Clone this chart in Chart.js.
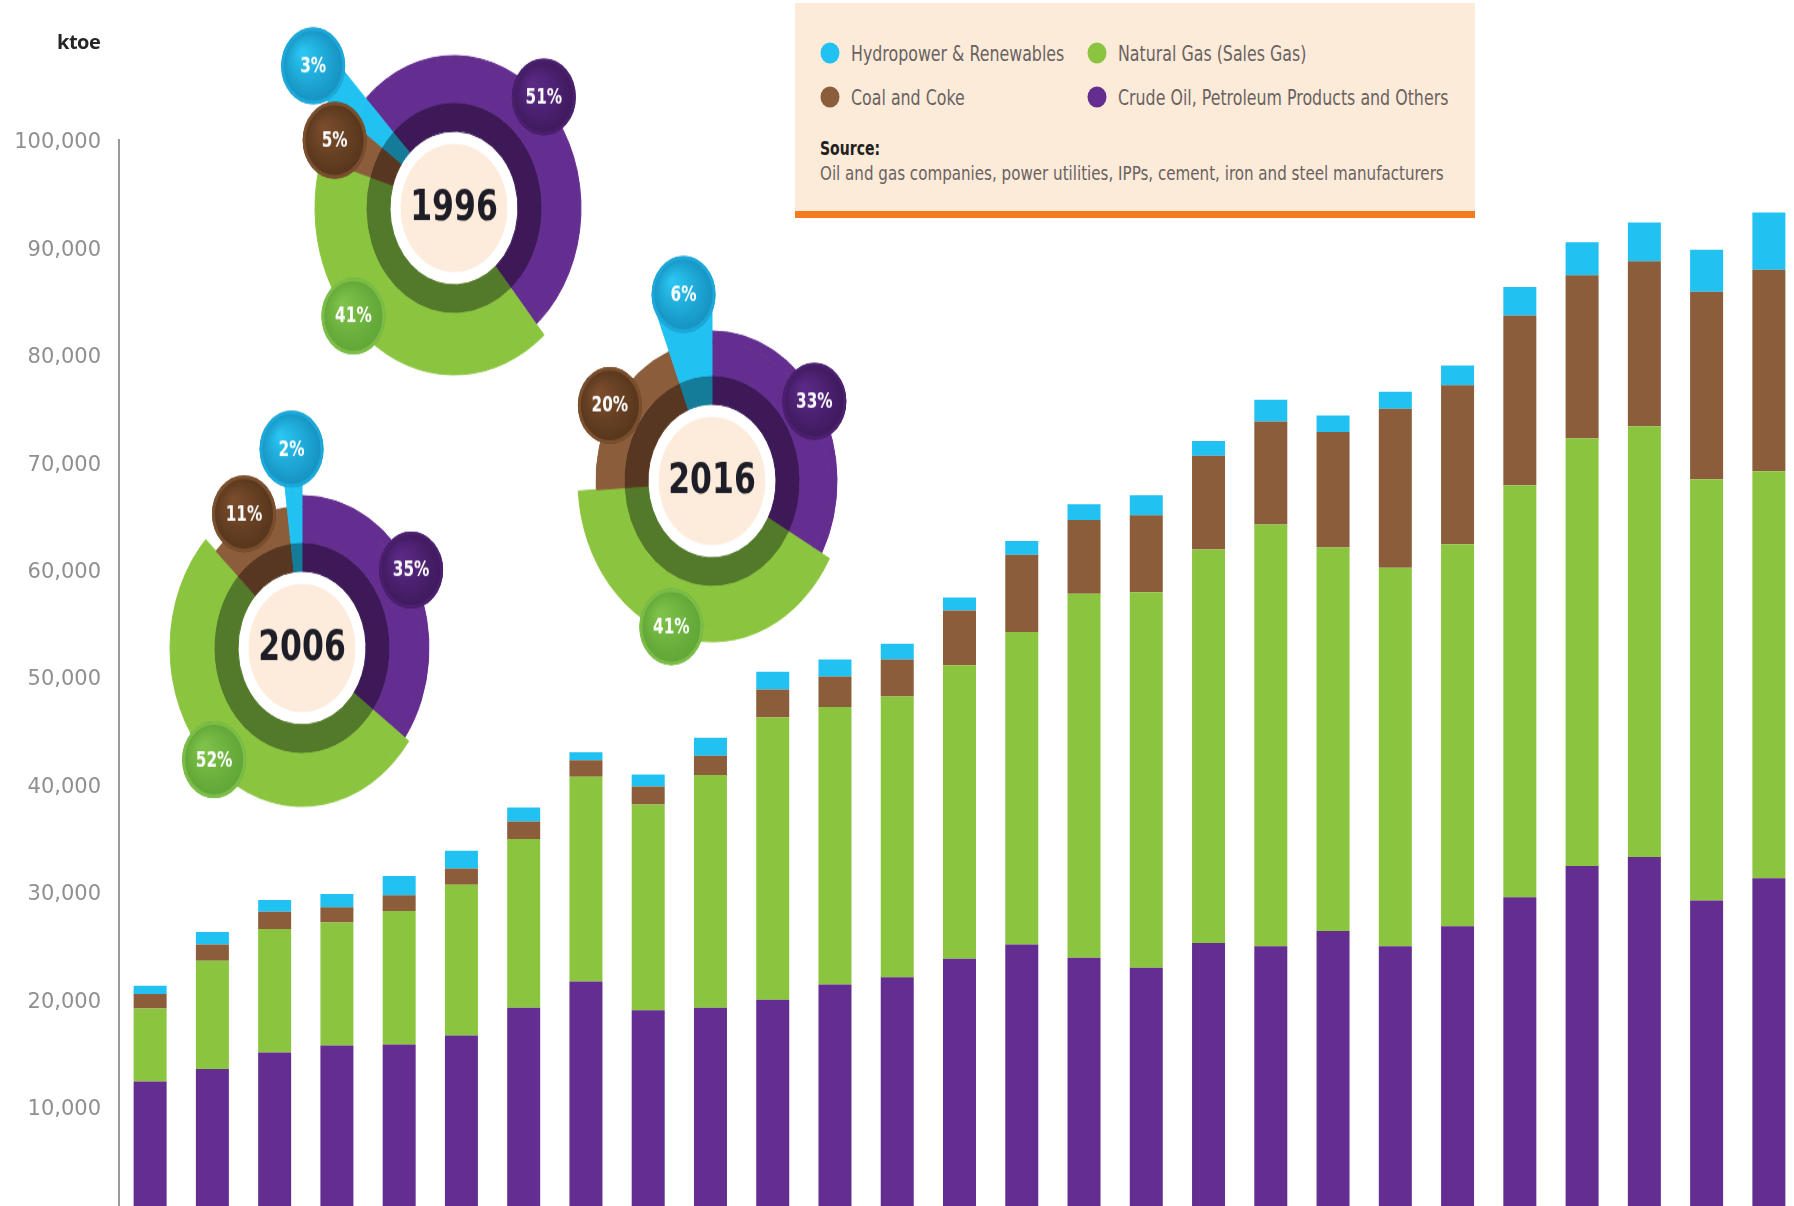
<!DOCTYPE html>
<html>
<head>
<meta charset="utf-8">
<script src="https://cdn.jsdelivr.net/npm/chart.js"></script>
<style>
  html, body { margin:0; padding:0; background:#ffffff; width:1794px; height:1206px; overflow:hidden; }
  #mainWrap { position:absolute; left:0; top:0; width:1800px; height:1214px; }
  .pieWrap { position:absolute; width:460px; height:460px; transform:scaleY(1.2); transform-origin:50% 50%; pointer-events:none; }
  #ktoe { position:absolute; left:57px; top:41px; transform:translateY(-50%); font-family:'Open Sans', sans-serif; font-weight:700; font-size:20px; color:#262626; letter-spacing:-0.5px; }
  #legend { position:absolute; left:795px; top:3px; width:680px; height:208px; background:#fdebda; border-bottom:7px solid #f47b20; }
  .lg { position:absolute; transform:translateY(-50%) scaleX(0.80); transform-origin:0 50%; font-family:'Liberation Sans Narrow','DejaVu Sans Condensed','Roboto Condensed',sans-serif; font-size:22px; color:#6a625f; white-space:nowrap; }
  .dot { position:absolute; width:19px; height:21px; border-radius:50%; transform:translate(-50%,-50%); }
  #srcHead { font-weight:700; color:#231f20; font-size:20px; transform:translateY(-50%) scaleX(0.78); }
  #srcText { font-size:20px; transform:translateY(-50%) scaleX(0.84); }
</style>
</head>
<body>
<div id="mainWrap"><canvas id="main" width="1800" height="1214"></canvas></div>
<div id="ktoe">ktoe</div>

<div id="legend">
  <span class="dot" id="d0" style="left:35px;top:50px"></span>
  <span class="lg" style="left:56px;top:50px">Hydropower &amp; Renewables</span>
  <span class="dot" id="d1" style="left:302px;top:50px"></span>
  <span class="lg" style="left:323px;top:50px">Natural Gas (Sales Gas)</span>
  <span class="dot" id="d2" style="left:35px;top:94px"></span>
  <span class="lg" style="left:56px;top:94px">Coal and Coke</span>
  <span class="dot" id="d3" style="left:302px;top:94px"></span>
  <span class="lg" style="left:323px;top:94px">Crude Oil, Petroleum Products and Others</span>
  <span class="lg" id="srcHead" style="left:25px;top:145px">Source:</span>
  <span class="lg" id="srcText" style="left:25px;top:170px">Oil and gas companies, power utilities, IPPs, cement, iron and steel manufacturers</span>
</div>

<div class="pieWrap" id="w1996"><canvas id="p1996" width="460" height="460"></canvas></div>
<div class="pieWrap" id="w2006"><canvas id="p2006" width="460" height="460"></canvas></div>
<div class="pieWrap" id="w2016"><canvas id="p2016" width="460" height="460"></canvas></div>

<script>
// ---------------- DATA ----------------
const years = ['1990','1991','1992','1993','1994','1995','1996','1997','1998','1999','2000','2001','2002','2003','2004','2005','2006','2007','2008','2009','2010','2011','2012','2013','2014','2015','2016'];
const crudeOil   = [12340,13490,15035,15680,15780,16620,19205,21650,18970,19205,19940,21365,22050,23770,25090,23870,22930,25240,24930,26355,24930,26792,29500,32396,33235,29194,31260];
const naturalGas = [6800,10080,11500,11460,12430,14045,15720,19060,19150,21670,26290,25840,26140,27320,29090,33885,34970,36640,39277,35700,35235,35575,38347,39844,40103,39229,37908];
const coalCoke   = [1340,1520,1610,1415,1480,1510,1620,1545,1685,1790,2600,2850,3435,5100,7205,6870,7160,8730,9579,10762,14801,14799,15815,15165,15377,17437,18760];
const hydroRenew = [770,1170,1080,1240,1790,1650,1310,745,1110,1675,1670,1570,1470,1220,1275,1470,1860,1370,2020,1527,1584,1842,2643,3072,3603,3910,5312];
const yTicks = [10000,20000,30000,40000,50000,60000,70000,80000,90000,100000];

// share pies: order = crude oil, natural gas, coal, hydro
const pieYears = ['1996','2006','2016'];
const share1996 = [51, 41, 5, 3];
const share2006 = [35, 52, 11, 2];
const share2016 = [33, 41, 20, 6];

// ---------------- STYLE ----------------
const PURPLE = '#642d90', GREEN = '#8bc53f', BROWN = '#8b5d3b', CYAN = '#21c2f1';
const BRIGHT = [PURPLE, GREEN, BROWN, CYAN];
const DARK = ['#3d1957', '#53792a', '#573721', '#147b99'];
const BUB = [
  {light:'#5b2a87', dark:'#3e195c', rim:'#4a1f6d'},
  {light:'#7fc24a', dark:'#5fa536', rim:'#7cbd47'},
  {light:'#7a4d2c', dark:'#56351b', rim:'#7a4f2e'},
  {light:'#2ac5f2', dark:'#1590bf', rim:'#1ca8d8'}
];
const NARROW = "'Liberation Sans Narrow','DejaVu Sans Condensed','Roboto Condensed',sans-serif";
const CREAM_R = 54, WHITE_R = 64, DARKRING_R = 88, BUBBLE_R = 32;
const pieStyle = {
  '1996': {cx:454, cy:208, rot:-44, outer:[127,139,125,174], dist:[129,135,132,184], frac:[0.48,0.6,0.45,0.45]},
  '2006': {cx:302, cy:648, rot:0,   outer:[127,132,118,155], dist:[127,128,126,166], frac:[0.47,0.52,0.49,0.5]},
  '2016': {cx:712, cy:481, rot:0,   outer:[125,134,116,148], dist:[122,128,120,158], frac:[0.48,0.54,0.49,0.52]}
};

document.getElementById('d0').style.background = CYAN;
document.getElementById('d1').style.background = GREEN;
document.getElementById('d2').style.background = BROWN;
document.getElementById('d3').style.background = PURPLE;

// ---------------- MAIN CHART ----------------
new Chart(document.getElementById('main'), {
  type: 'bar',
  data: {
    labels: years,
    datasets: [
      {label:'Crude Oil, Petroleum Products and Others', data: crudeOil, backgroundColor: PURPLE},
      {label:'Natural Gas (Sales Gas)', data: naturalGas, backgroundColor: GREEN},
      {label:'Coal and Coke', data: coalCoke, backgroundColor: BROWN},
      {label:'Hydropower & Renewables', data: hydroRenew, backgroundColor: CYAN}
    ]
  },
  options: {
    responsive: false,
    animation: false,
    events: [],
    devicePixelRatio: 1,
    layout: {padding: {top: 140, left: 0, right: 0, bottom: 0}},
    plugins: {legend: {display: false}, tooltip: {enabled: false}},
    datasets: {bar: {categoryPercentage: 1, barPercentage: 0.53, borderWidth: 0}},
    scales: {
      x: {stacked: true, display: false},
      y: {
        stacked: true, min: 0, max: 100000,
        afterBuildTicks: s => { s.ticks = yTicks.map(v => ({value: v})); },
        afterFit: s => { s.width = 119; s.paddingTop = 0; s.paddingBottom = 0; },
        grid: {display: false, drawTicks: false},
        border: {display: true, color: '#9b9b9b', width: 2},
        ticks: {
          padding: 18, color: '#8f8f8f', labelOffset: 3,
          font: {family: 'DejaVu Sans', size: 21},
          callback: v => Number(v).toLocaleString('en-US')
        }
      }
    }
  }
});

// ---------------- PIES ----------------
function buildRings(values, st) {
  const bounds = [...new Set(st.outer)].sort((a, b) => b - a);
  const sets = [];
  for (let k = 0; k < bounds.length; k++) {
    const top = bounds[k];
    const bottom = k + 1 < bounds.length ? bounds[k + 1] : DARKRING_R;
    const cols = values.map((_, i) => st.outer[i] >= top ? BRIGHT[i] : 'rgba(0,0,0,0)');
    sets.push({data: values, weight: top - bottom, backgroundColor: cols, borderColor: cols, borderWidth: 1});
  }
  sets.push({data: values, weight: DARKRING_R - WHITE_R, backgroundColor: DARK, borderColor: DARK, borderWidth: 1, _dark: true});
  sets.push({data: [1], weight: WHITE_R - CREAM_R, backgroundColor: ['#ffffff'], borderColor: ['#ffffff'], borderWidth: 1});
  sets.push({data: [1], weight: CREAM_R, backgroundColor: ['#fdebdb'], borderColor: ['#fdebdb'], borderWidth: 1});
  return sets;
}

const bubblePlugin = {
  id: 'bubbles',
  afterDraw(chart, args, opts) {
    const ctx = chart.ctx;
    const st = opts.style;
    const dIdx = chart.data.datasets.findIndex(d => d._dark);
    const arcs = chart.getDatasetMeta(dIdx).data;
    const cx = arcs[0].x, cy = arcs[0].y;
    const vals = chart.data.datasets[dIdx].data;
    ctx.save();
    arcs.forEach((arc, i) => {
      const a = arc.startAngle + st.frac[i] * (arc.endAngle - arc.startAngle);
      const x = cx + Math.cos(a) * st.dist[i];
      const y = cy + Math.sin(a) * st.dist[i];
      const c = BUB[i];
      const g = ctx.createRadialGradient(x - BUBBLE_R * 0.35, y - BUBBLE_R * 0.35, 2, x, y, BUBBLE_R);
      g.addColorStop(0, c.light);
      g.addColorStop(1, c.dark);
      ctx.beginPath();
      ctx.arc(x, y, BUBBLE_R, 0, Math.PI * 2);
      ctx.fillStyle = g;
      ctx.fill();
      ctx.lineWidth = 3;
      ctx.strokeStyle = c.rim;
      ctx.beginPath();
      ctx.arc(x, y, BUBBLE_R - 1.5, 0, Math.PI * 2);
      ctx.stroke();
      ctx.fillStyle = '#ffffff';
      ctx.font = 'bold 17px ' + NARROW;
      ctx.textAlign = 'center';
      ctx.textBaseline = 'middle';
      ctx.fillText(vals[i] + '%', x, y + 1);
    });
    ctx.fillStyle = '#1d1d27';
    ctx.font = 'bold 35px ' + NARROW;
    ctx.textAlign = 'center';
    ctx.textBaseline = 'middle';
    ctx.fillText(opts.year, cx, cy + 1);
    ctx.restore();
  }
};

const shares = {'1996': share1996, '2006': share2006, '2016': share2016};
pieYears.forEach(yr => {
  const st = pieStyle[yr];
  const wrap = document.getElementById('w' + yr);
  wrap.style.left = (st.cx - 230) + 'px';
  wrap.style.top = (st.cy - 230) + 'px';
  new Chart(document.getElementById('p' + yr), {
    type: 'doughnut',
    data: {labels: ['Crude Oil', 'Natural Gas', 'Coal', 'Hydro'], datasets: buildRings(shares[yr], st)},
    options: {
      responsive: false, animation: false, events: [], devicePixelRatio: 1,
      radius: Math.max(...st.outer), cutout: 0, rotation: st.rot,
      layout: {padding: 0},
      plugins: {legend: {display: false}, tooltip: {enabled: false}, bubbles: {style: st, year: yr}}
    },
    plugins: [bubblePlugin]
  });
});
</script>
</body>
</html>
